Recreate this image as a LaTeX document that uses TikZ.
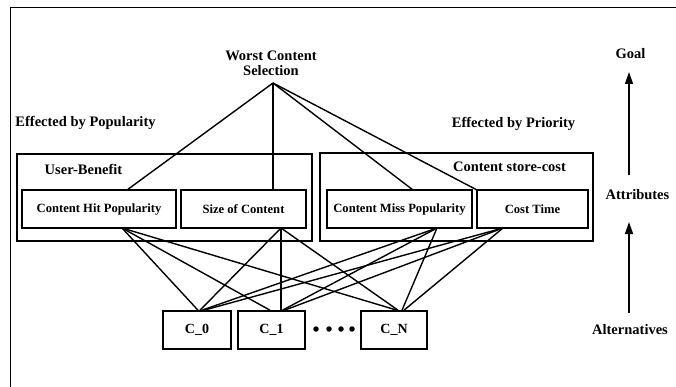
\documentclass[tikz,border=0pt]{standalone}
\usepackage{fontspec}
\setmainfont{Liberation Serif}
\usetikzlibrary{arrows.meta}
\begin{document}
\begin{tikzpicture}[x=1pt,y=1pt,
  lbl/.style={font=\fontsize{14.5}{15.5}\selectfont\bfseries, inner sep=0pt},
  attrbox/.style={draw, line width=1.6pt, minimum height=38pt, inner sep=0pt,
    font=\fontsize{12.6}{14}\selectfont\bfseries},
  groupbox/.style={draw, line width=1.6pt, inner sep=0pt},
  altbox/.style={draw, line width=1.6pt, minimum height=38pt, inner sep=0pt,
    font=\fontsize{14}{15}\selectfont\bfseries},
  conn/.style={line width=1.4pt},
  dotnode/.style={circle, fill=black, minimum size=5.5pt, inner sep=0pt},
  uparrow/.style={line width=1.5pt, -{Triangle[length=12pt,width=8pt]}}
]
\useasboundingbox (0,0) rectangle (676,-387);
% outer frame (only left and top edges visible)
\coordinate (fbl) at (10,-390);
\coordinate (ftl) at (10,-8);
\coordinate (ftr) at (680,-8);
\draw[line width=1pt] (fbl) -- (ftl) -- (ftr);

% group boxes
\node[groupbox, minimum width=295pt, minimum height=87pt] (gl) at (164.5,-197.5) {};
\node[groupbox, minimum width=273pt, minimum height=88pt] (gr) at (456.5,-197) {};

% attribute boxes
\node[attrbox, minimum width=154pt] (chp) at (99,-209) {Content Hit Popularity};
\node[attrbox, minimum width=125pt] (soc) at (243.5,-209) {Size of Content};
\node[attrbox, minimum width=145pt] (cmp) at (399.5,-209) {Content Miss Popularity};
\node[attrbox, minimum width=111pt] (ct) at (532.5,-209) {Cost Time};

% alternatives
\node[altbox, minimum width=68pt] (c0) at (197,-330) {C\_0};
\node[altbox, minimum width=67pt] (c1) at (271.5,-330) {C\_1};
\node[altbox, minimum width=66pt] (cn) at (394,-330) {C\_N};
\node[dotnode] (d1) at (316,-329) {};
\node[dotnode] (d2) at (329,-329) {};
\node[dotnode] (d3) at (341,-329) {};
\node[dotnode] (d4) at (352,-329) {};

% labels
\node[lbl, align=center] (wcs) at (271,-63.5) {Worst Content\\Selection};
\node[lbl] (ebpop) at (85.5,-123) {Effected by Popularity};
\node[lbl] (ebpri) at (513.5,-124) {Effected by Priority};
\node[lbl] (ub) at (83.5,-169) {User-Benefit};
\node[lbl] (csc) at (509.5,-167) {Content store-cost};
\node[lbl] (goal) at (630.5,-54) {Goal};
\node[lbl] (attr) at (637.5,-195) {Attributes};
\node[lbl] (alt) at (630,-330) {Alternatives};

% side arrows
\coordinate (a1s) at (629,-175);
\coordinate (a1e) at (629,-72);
\coordinate (a2s) at (629,-313);
\coordinate (a2e) at (629,-222);
\draw[uparrow] (a1s) -- (a1e);
\draw[uparrow] (a2s) -- (a2e);

% connection points
\coordinate (apex) at (273,-83);
\coordinate (chpT) at (127,-190);
\coordinate (socT) at (273,-190);
\coordinate (cmpT) at (413,-190);
\coordinate (ctT) at (477,-190);
\coordinate (chpB) at (122,-228);
\coordinate (socB) at (281,-228);
\coordinate (cmpB) at (437,-228);
\coordinate (ctB) at (503,-228);

% goal to attributes
\draw[conn] (apex) -- (chpT);
\draw[conn] (apex) -- (socT);
\draw[conn] (apex) -- (cmpT);
\draw[conn] (apex) -- (ctT);

% attributes to alternatives
\draw[conn] (chpB) -- ([xshift=1pt]c0.north);
\draw[conn] (chpB) -- ([xshift=-1.5pt]c1.north);
\draw[conn] (chpB) -- ([xshift=3pt]cn.north);
\draw[conn] (socB) -- ([xshift=3pt]c0.north);
\draw[conn] (socB) -- ([xshift=9.5pt]c1.north);
\draw[conn] (socB) -- ([xshift=4pt]cn.north);
\draw[conn] (cmpB) -- ([xshift=5pt]c0.north);
\draw[conn] (cmpB) -- ([xshift=11pt]c1.north);
\draw[conn] (cmpB) -- ([xshift=8pt]cn.north);
\draw[conn] (ctB) -- ([xshift=7pt]c0.north);
\draw[conn] (ctB) -- ([xshift=13pt]c1.north);
\draw[conn] (ctB) -- ([xshift=10pt]cn.north);
\end{tikzpicture}
\end{document}
